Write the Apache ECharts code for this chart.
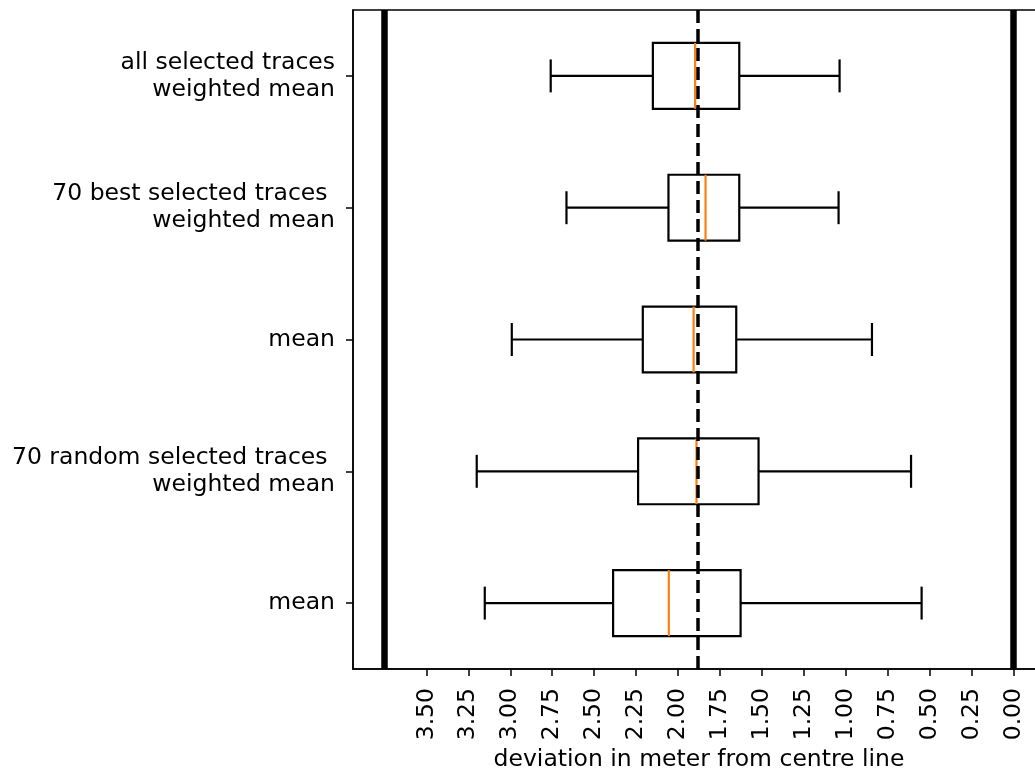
<!DOCTYPE html>
<html>
<head>
<meta charset="utf-8">
<script src="https://cdn.jsdelivr.net/npm/echarts@6/dist/echarts.min.js"></script>
<style>html,body{margin:0;padding:0;background:#fff;}#c{width:1035px;height:769px;}</style>
</head>
<body>
<div id="c"></div>
<script>
// categories, top to bottom
var categories = [
  'all selected traces\nweighted mean',
  '70 best selected traces \nweighted mean',
  'mean',
  '70 random selected traces \nweighted mean',
  'mean'
];
// [whisker low, Q1, median, Q3, whisker high] in metres
var boxMin    = [2.759, 2.665, 2.991, 3.200, 3.152];
var boxQ1     = [2.150, 2.057, 2.210, 2.238, 2.387];
var boxMedian = [1.898, 1.836, 1.907, 1.890, 2.055];
var boxQ3     = [1.635, 1.635, 1.653, 1.520, 1.627];
var boxMax    = [1.037, 1.043, 0.844, 0.611, 0.548];
// reference lines
var laneEdges = [0, 3.75];
var centreLine = [1.875];
// x tick labels
var xTicks = [0, 0.25, 0.5, 0.75, 1.0, 1.25, 1.5, 1.75, 2.0, 2.25, 2.5, 2.75, 3.0, 3.25, 3.5];
var xMin = -0.1875, xMax = 3.9375;

var FONT = 'DejaVu Sans';
var data = categories.map(function (c, i) {
  return [i, boxMin[i], boxQ1[i], boxMedian[i], boxQ3[i], boxMax[i]];
});

function renderBox(params, api) {
  var ci = api.value(0);
  var band = api.size([0, 1])[1];
  var hb = band * 0.25, hc = band * 0.125;
  var pMin = api.coord([api.value(1), ci]);
  var pQ1 = api.coord([api.value(2), ci]);
  var pMed = api.coord([api.value(3), ci]);
  var pQ3 = api.coord([api.value(4), ci]);
  var pMax = api.coord([api.value(5), ci]);
  var y = pMin[1];
  var black = {stroke: '#000', lineWidth: 2.2, fill: null};
  var x1 = Math.min(pQ1[0], pQ3[0]), x2 = Math.max(pQ1[0], pQ3[0]);
  return {
    type: 'group',
    children: [
      {type: 'line', shape: {x1: pMin[0], y1: y, x2: pQ1[0], y2: y}, style: black},
      {type: 'line', shape: {x1: pQ3[0], y1: y, x2: pMax[0], y2: y}, style: black},
      {type: 'line', shape: {x1: pMin[0], y1: y - hc, x2: pMin[0], y2: y + hc}, style: black},
      {type: 'line', shape: {x1: pMax[0], y1: y - hc, x2: pMax[0], y2: y + hc}, style: black},
      {type: 'rect', shape: {x: x1, y: y - hb, width: x2 - x1, height: 2 * hb}, style: {stroke: '#000', lineWidth: 2.2, fill: 'none'}},
      {type: 'line', shape: {x1: pMed[0], y1: y - hb, x2: pMed[0], y2: y + hb}, style: {stroke: '#ff7f0e', lineWidth: 2.2}}
    ]
  };
}

var chart = echarts.init(document.getElementById('c'), null, {renderer: 'canvas'});
chart.setOption({
  animation: false,
  backgroundColor: '#fff',
  grid: {left: 353, top: 10, width: 692, height: 659, show: true, borderColor: '#000', borderWidth: 1.5,
    backgroundColor: 'transparent', containLabel: false, outerBoundsMode: 'none'},
  xAxis: {
    type: 'value', inverse: true, min: xMin, max: xMax,
    name: 'deviation in meter from centre line', nameLocation: 'middle', nameGap: 77,
    nameTextStyle: {fontFamily: FONT, fontSize: 23.5, color: '#000'},
    axisLine: {show: true, onZero: false, lineStyle: {color: '#000', width: 1.5}},
    axisTick: {show: true, length: 7, lineStyle: {color: '#000', width: 1.5}, customValues: xTicks},
    axisLabel: {rotate: 90, margin: 19, fontFamily: FONT, fontSize: 23.5, color: '#000', customValues: xTicks,
      formatter: function (v) { return v.toFixed(2); }},
    splitLine: {show: false}
  },
  yAxis: {
    type: 'category', data: categories, inverse: true,
    axisLine: {show: true, onZero: false, lineStyle: {color: '#000', width: 1.5}},
    axisTick: {show: true, alignWithLabel: true, length: 7, lineStyle: {color: '#000', width: 1.5}},
    axisLabel: {margin: 18, fontFamily: FONT, fontSize: 23.5, lineHeight: 27, color: '#000', align: 'right'},
    splitLine: {show: false}
  },
  series: [{
    type: 'custom',
    renderItem: renderBox,
    encode: {x: [1, 2, 3, 4, 5], y: 0},
    data: data,
    z: 2,
    markLine: {
      silent: true, symbol: 'none', animation: false,
      label: {show: false},
      data: laneEdges.map(function (v) { return {xAxis: v, lineStyle: {color: '#000', width: 6.5, type: 'solid'}}; })
        .concat(centreLine.map(function (v) { return {xAxis: v, lineStyle: {color: '#000', width: 3.5, type: [13, 6]}}; }))
    }
  }]
});
</script>
</body>
</html>
